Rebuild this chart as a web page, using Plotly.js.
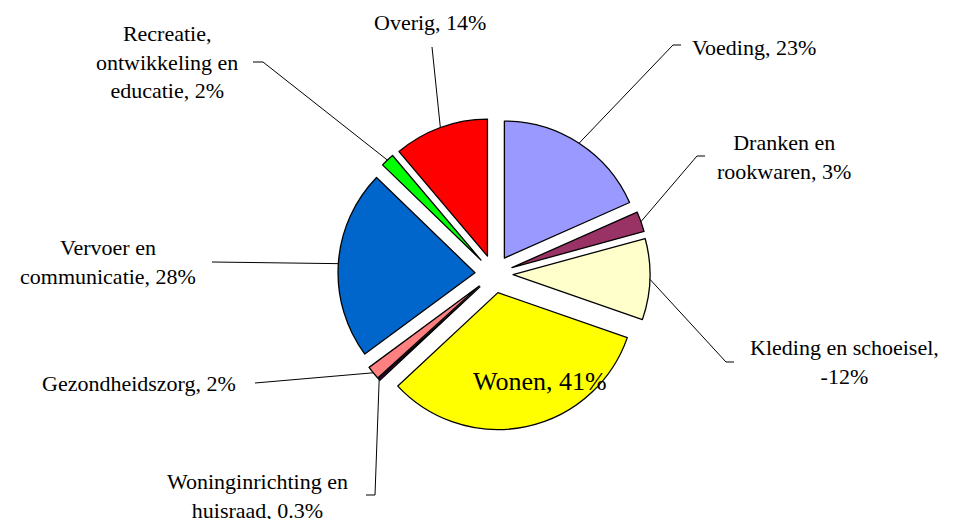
<!DOCTYPE html>
<html><head><meta charset="utf-8">
<script src="https://cdn.plot.ly/plotly-3.0.1.min.js"></script>
<style>
html,body{margin:0;padding:0;background:#fff;}
#chart{width:953px;height:519px;}
</style></head><body><div id="chart"></div>
<script>
// ---- data ----
const categories = ["Voeding","Dranken en rookwaren","Kleding en schoeisel","Wonen","Woninginrichting en huisraad","Gezondheidszorg","Vervoer en communicatie","Recreatie, ontwikkeling en educatie","Overig"];
const values = [23, 3, -12, 41, 0.3, 2, 28, 2, 14];
const colors = ["#9999FF","#993366","#FFFFCC","#FFFF00","#660066","#FF8080","#0066CC","#00FF00","#FF0000"];
// label text wrapping (display names)
const labelNames = ["Voeding","Dranken en<br>rookwaren","Kleding en schoeisel","Wonen","Woninginrichting en<br>huisraad","Gezondheidszorg","Vervoer en<br>communicatie","Recreatie,<br>ontwikkeling en<br>educatie","Overig"];
const labelSep = [", ",", ",",<br>",", ",", ",", ",", ",", ",", "];

// ---- layout geometry (pixels) ----
const W = 953, H = 519;
const CX = 494, CY = 274, OUTER = 156, PULL = 0.139;
const labelPos = [[754,48],[784,157],[844,362],[540,381],[257,496],[139,383],[108,262],[167,62],[430,23]];
const leaderEnds = [[[673,45],[681,45]],[[697,156],[705,156]],[[726,362],[734,362]],null,[[375,495],[366,495]],[[255,383]],[[212,262]],[[263,62],[253,62]],[[432,47]]];

const px = x => x / W;
const py = y => 1 - y / H;

const absVals = values.map(v => Math.abs(v));
const total = absVals.reduce((a,b) => a + b, 0);

const shapes = [];
let cum = 0;
absVals.forEach((v, i) => {
  const mid = (cum + v / 2) / total * 2 * Math.PI;
  cum += v;
  if (!leaderEnds[i]) return;
  const ax = CX + OUTER * Math.sin(mid);
  const ay = CY - OUTER * Math.cos(mid);
  let path = `M ${px(ax)},${py(ay)}`;
  leaderEnds[i].forEach(p => { path += ` L ${px(p[0])},${py(p[1])}`; });
  shapes.push({type:'path', xref:'paper', yref:'paper', path: path, line:{color:'#000', width:1}});
});

const annotations = categories.map((c, i) => ({
  xref:'paper', yref:'paper',
  x: px(labelPos[i][0]), y: py(labelPos[i][1]),
  xanchor:'center', yanchor:'middle',
  text: labelNames[i] + labelSep[i] + values[i] + '%',
  showarrow:false,
  font:{family:'Times New Roman', size: i === 3 ? 26 : 22, color:'#000'}
}));

const trace = {
  type:'pie',
  labels: categories,
  values: absVals,
  sort:false,
  direction:'clockwise',
  rotation:0,
  pull: PULL,
  marker:{colors: colors, line:{color:'#000', width:1.3}},
  textinfo:'none',
  hoverinfo:'skip',
  showlegend:false,
  domain:{x:[px(CX-OUTER), px(CX+OUTER)], y:[py(CY+OUTER), py(CY-OUTER)]}
};

Plotly.newPlot('chart', [trace], {
  width:W, height:H,
  margin:{l:0,r:0,t:0,b:0},
  showlegend:false,
  font:{family:'Times New Roman'},
  shapes: shapes,
  annotations: annotations
}, {displayModeBar:false, staticPlot:true});
</script></body></html>
